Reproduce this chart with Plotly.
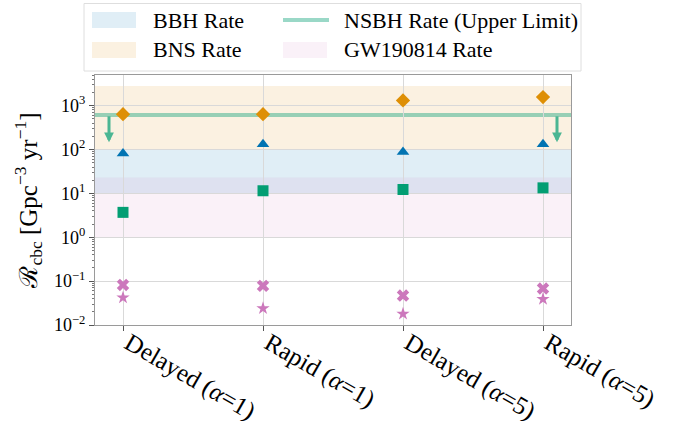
import numpy as np
import plotly.graph_objects as go

# ---------------- data ----------------
categories = ["Delayed (<i>α</i>=1)", "Rapid (<i>α</i>=1)", "Delayed (<i>α</i>=5)", "Rapid (<i>α</i>=5)"]
bns_model = [640, 640, 1320, 1570]            # diamonds
bbh_model = [81, 132, 88, 132]                # triangles
nsbh_model = [3.7, 11.5, 12.3, 13.4]          # squares
gw190814_x = [0.082, 0.078, 0.047, 0.068]     # X markers
gw190814_star = [0.042, 0.024, 0.018, 0.039]  # stars

bbh_rate = [9.7, 101]
bns_rate = [100, 2800]
gw190814_rate = [1, 23]
nsbh_upper = 610
arrow_tip = 147

legend_labels = ["BBH Rate", "BNS Rate", "NSBH Rate (Upper Limit)", "GW190814 Rate"]

ytick_vals = [1e-2, 1e-1, 1e0, 1e1, 1e2, 1e3]
ytick_text = ["10<sup>−2</sup>", "10<sup>−1</sup>", "10<sup>0</sup>",
              "10<sup>1</sup>", "10<sup>2</sup>", "10<sup>3</sup>"]

# ---------------- style ----------------
C_BLUE = "#0173b2"
C_ORANGE = "#de8f05"
C_GREEN = "#029e73"
C_PINK = "#cc78bc"
FILL_BBH = "rgba(1,115,178,0.12)"
FILL_BNS = "rgba(222,143,5,0.12)"
FILL_GW = "rgba(204,120,188,0.10)"
LINE_NSBH = "rgba(2,158,115,0.4)"
ARROW_NSBH = "rgba(2,158,115,0.7)"
FONT = "Liberation Serif, DejaVu Serif, serif"

W, H = 694, 433
ML, MR, MT, MB = 95, 123, 75, 108
PW, PH = W - ML - MR, H - MT - MB

def px_x(p):   # pixel -> paper x
    return (p - ML) / PW

def px_y(p):   # pixel -> paper y
    return 1 - (p - MT) / PH

xs = list(range(len(categories)))
fig = go.Figure()

def marker_trace(y, symbol, color, size):
    return go.Scatter(x=xs, y=y, mode="markers", showlegend=False, hoverinfo="skip",
                      marker=dict(symbol=symbol, color=color, size=size, line=dict(width=0)))

fig.add_trace(marker_trace(bns_model, "diamond", C_ORANGE, 11))
fig.add_trace(marker_trace(bbh_model, "triangle-up", C_BLUE, 11))
fig.add_trace(marker_trace(nsbh_model, "square", C_GREEN, 11))
fig.add_trace(marker_trace(gw190814_x, "x", C_PINK, 11))
fig.add_trace(marker_trace(gw190814_star, "star", C_PINK, 10))

# bands
for (y0, y1), fc in [(bbh_rate, FILL_BBH), (bns_rate, FILL_BNS), (gw190814_rate, FILL_GW)]:
    fig.add_shape(type="rect", xref="paper", x0=0, x1=1, yref="y", y0=y0, y1=y1,
                  fillcolor=fc, line_width=0, layer="below")
fig.add_shape(type="line", xref="paper", x0=0, x1=1, yref="y", y0=nsbh_upper, y1=nsbh_upper,
              line=dict(color=LINE_NSBH, width=4), layer="below")

# downward arrows for the upper limit
for xa in [-0.1, 3.1]:
    fig.add_annotation(x=xa, y=np.log10(arrow_tip), ax=xa, ay=np.log10(nsbh_upper),
                       xref="x", yref="y", axref="x", ayref="y", text="",
                       showarrow=True, arrowhead=2, arrowsize=0.65, arrowwidth=3,
                       arrowcolor=ARROW_NSBH)

# ---------------- legend (drawn by hand, matplotlib style) ----------------
fig.add_shape(type="rect", xref="paper", yref="paper",
              x0=px_x(84), x1=px_x(581), y0=px_y(71), y1=px_y(3.5),
              fillcolor="white", line=dict(color="#dedede", width=1), layer="above")
legend_items = [
    (legend_labels[0], "patch", FILL_BBH, 92, 20),
    (legend_labels[1], "patch", FILL_BNS, 92, 50),
    (legend_labels[2], "line", LINE_NSBH, 283, 20),
    (legend_labels[3], "patch", FILL_GW, 283, 50),
]
for label, kind, col, x0, yc in legend_items:
    if kind == "patch":
        fig.add_shape(type="rect", xref="paper", yref="paper",
                      x0=px_x(x0), x1=px_x(x0 + 44), y0=px_y(yc + 8), y1=px_y(yc - 8),
                      fillcolor=col, line_width=0, layer="above")
    else:
        fig.add_shape(type="line", xref="paper", yref="paper",
                      x0=px_x(x0), x1=px_x(x0 + 46), y0=px_y(yc), y1=px_y(yc),
                      line=dict(color=col, width=4), layer="above")
    fig.add_annotation(x=px_x(x0 + 59), y=px_y(yc), xref="paper", yref="paper",
                       text=label, showarrow=False, xanchor="left", yanchor="middle",
                       font=dict(size=22, family=FONT, color="black"))

fig.update_layout(
    width=W, height=H,
    margin=dict(l=ML, r=MR, t=MT, b=MB, autoexpand=False),
    plot_bgcolor="white", paper_bgcolor="white",
    font=dict(family=FONT, color="black"),
    showlegend=False,
    xaxis=dict(range=[-0.2, 3.2], tickmode="array", tickvals=xs, ticktext=categories,
               tickangle=30, tickfont=dict(size=25, family=FONT, color="black"),
               ticklabelstandoff=-12, ticklabelshift=6,
               showgrid=True, gridcolor="#d9d9d9", gridwidth=1, automargin=False,
               showline=True, linecolor="#9a9a9a", linewidth=1, mirror=True,
               ticks="outside", ticklen=5, tickcolor="#555", zeroline=False),
    yaxis=dict(type="log", range=[-2, 3.7], tickmode="array", tickvals=ytick_vals,
               ticktext=ytick_text, tickfont=dict(size=18, family=FONT, color="black"),
               showgrid=True, gridcolor="#d9d9d9", gridwidth=1, automargin=False,
               showline=True, linecolor="#9a9a9a", linewidth=1, mirror=True,
               ticks="outside", ticklen=5, tickcolor="#555", zeroline=False,
               minor=dict(ticks="outside", ticklen=2, dtick="D1", tickcolor="#777", showgrid=False),
               title=dict(text="ℛ<sub>cbc</sub> [Gpc<sup>−3</sup> yr<sup>−1</sup>]",
                          font=dict(size=25, family=FONT, color="black"), standoff=9)),
)

fig.write_html("out.html", config={"displayModeBar": False},
               post_script="document.body.style.margin='0px';")
